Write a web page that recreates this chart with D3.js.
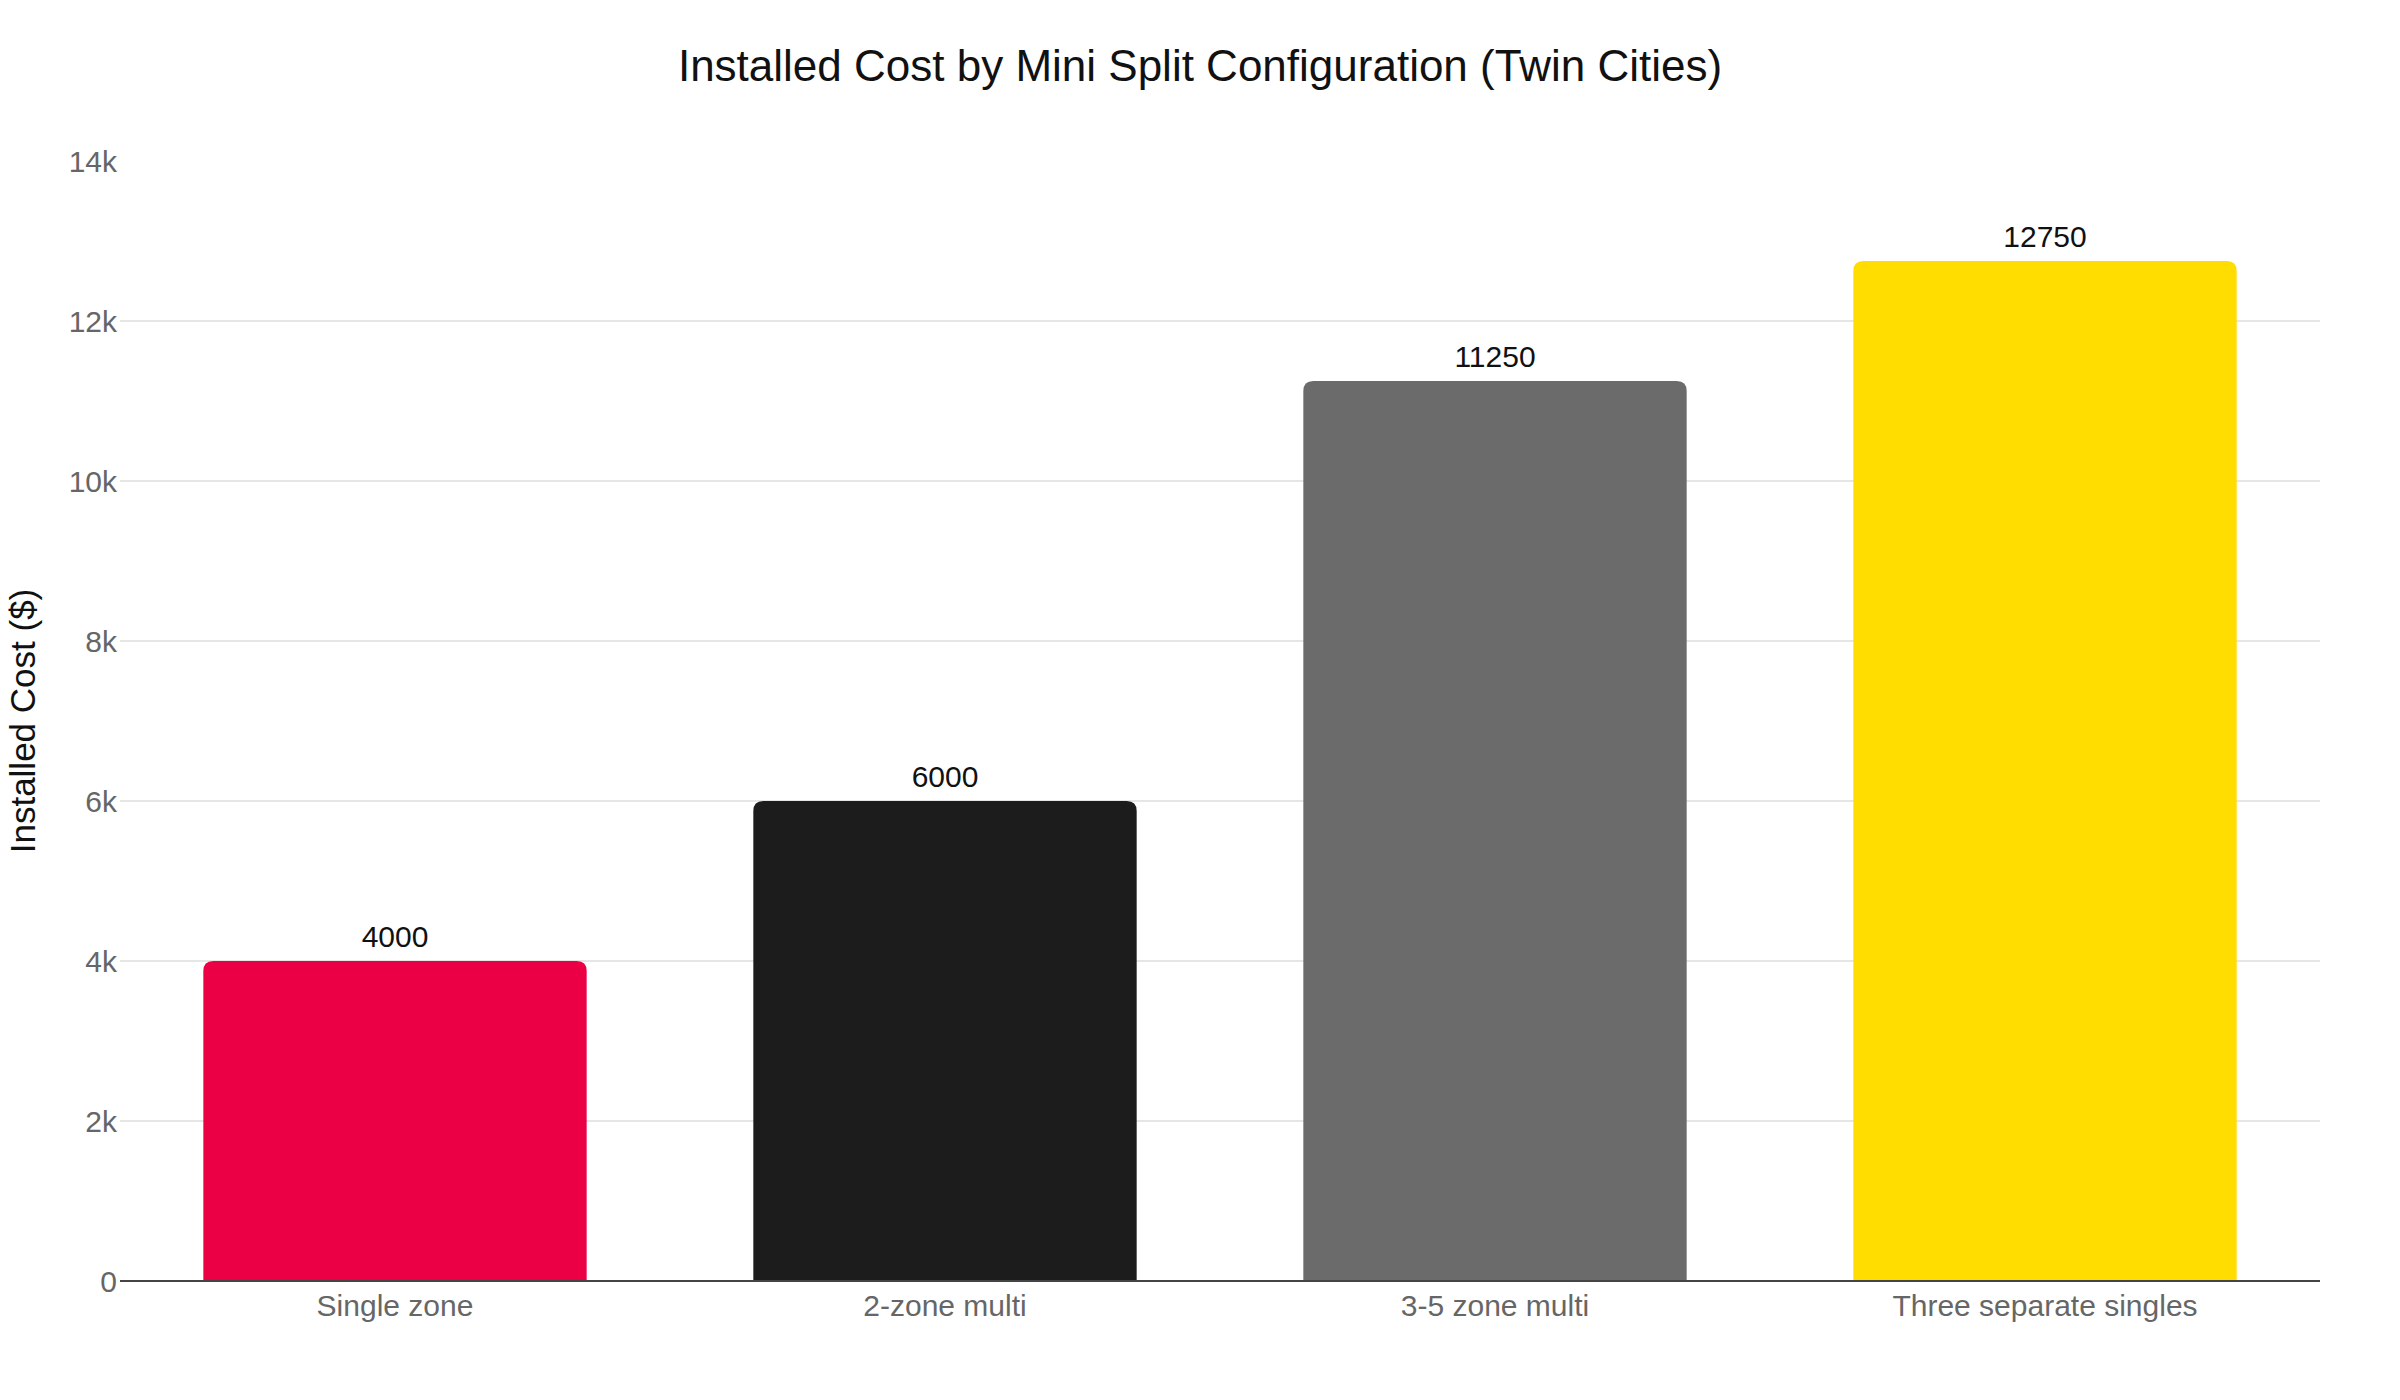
<!DOCTYPE html>
<html><head><meta charset="utf-8">
<script src="https://cdn.jsdelivr.net/npm/d3@7"></script>
<style>html,body{margin:0;padding:0;background:#fff;}svg{display:block;font-family:"Liberation Sans",Arial,Helvetica,sans-serif;}</style>
</head><body><svg id="chart" width="2400" height="1400"></svg>
<script>
const categories = ["Single zone", "2-zone multi", "3-5 zone multi", "Three separate singles"];
const values = [4000, 6000, 11250, 12750];
const barColors = ["#EB0045", "#1C1C1C", "#6B6B6B", "#FFDD00"];
const yTicks = [0, 2000, 4000, 6000, 8000, 10000, 12000, 14000];
const yTickLabels = ["0", "2k", "4k", "6k", "8k", "10k", "12k", "14k"];
const title = "Installed Cost by Mini Split Configuration (Twin Cities)";
const yTitle = "Installed Cost ($)";

const W = 2400, H = 1400;
const m = {left: 120, right: 80, top: 161, bottom: 119};
const svg = d3.select("#chart");
const x = d3.scaleBand().domain(categories).range([m.left, W - m.right]).paddingInner(0.303).paddingOuter(0.1515);
const y = d3.scaleLinear().domain([0, 14000]).range([H - m.bottom, m.top]);

// gridlines (no line at top tick)
svg.append("g").selectAll("line").data(yTicks.filter(d => d > 0 && d < 14000)).join("line")
  .attr("x1", m.left).attr("x2", W - m.right)
  .attr("y1", d => y(d)).attr("y2", d => y(d))
  .attr("stroke", "#e6e6e6").attr("stroke-width", 2);

// bars with rounded tops
const r = 10;
svg.append("g").selectAll("path").data(values).join("path")
  .attr("fill", (d, i) => barColors[i])
  .attr("d", (d, i) => {
    const x0 = x(categories[i]), x1 = x0 + x.bandwidth();
    const yt = y(d), yb = y(0);
    return `M${x0},${yb}L${x0},${yt + r}Q${x0},${yt} ${x0 + r},${yt}L${x1 - r},${yt}Q${x1},${yt} ${x1},${yt + r}L${x1},${yb}Z`;
  });

// baseline
svg.append("line").attr("x1", m.left).attr("x2", W - m.right)
  .attr("y1", y(0)).attr("y2", y(0)).attr("stroke", "#444").attr("stroke-width", 2);

// value labels
svg.append("g").selectAll("text").data(values).join("text")
  .attr("x", (d, i) => x(categories[i]) + x.bandwidth() / 2)
  .attr("y", d => y(d) - 14)
  .attr("text-anchor", "middle").attr("font-size", 30).attr("fill", "#111")
  .text(d => d);

// y tick labels
svg.append("g").selectAll("text").data(yTicks).join("text")
  .attr("x", m.left - 3).attr("y", d => y(d)).attr("dy", "0.35em")
  .attr("text-anchor", "end").attr("font-size", 30).attr("fill", "#666")
  .text((d, i) => yTickLabels[i]);

// x tick labels
svg.append("g").selectAll("text").data(categories).join("text")
  .attr("x", d => x(d) + x.bandwidth() / 2).attr("y", y(0) + 35)
  .attr("text-anchor", "middle").attr("font-size", 30).attr("fill", "#666")
  .text(d => d);

// title
svg.append("text").attr("x", 1200).attr("y", 81).attr("text-anchor", "middle")
  .attr("font-size", 44).attr("fill", "#111").text(title);

// y axis title
svg.append("text").attr("transform", `translate(35,${(y(0) + y(14000)) / 2}) rotate(-90)`)
  .attr("text-anchor", "middle").attr("font-size", 35).attr("fill", "#111").text(yTitle);
</script></body></html>
